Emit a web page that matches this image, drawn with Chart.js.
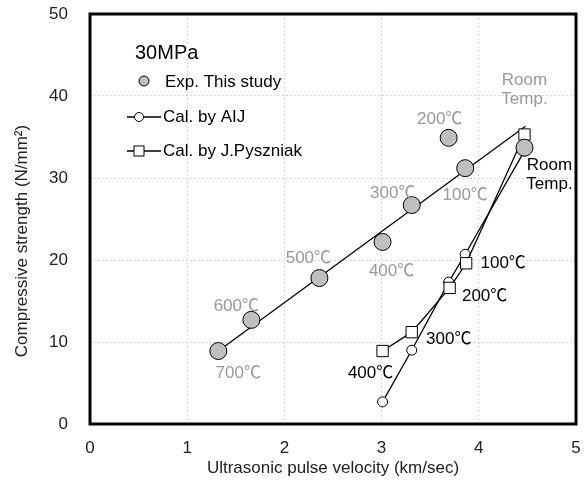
<!DOCTYPE html>
<html>
<head>
<meta charset="utf-8">
<script src="https://cdn.jsdelivr.net/npm/chart.js@4.4.1/dist/chart.umd.min.js"></script>
<style>
    html, body { margin: 0; padding: 0; background: #fff; }
</style>
</head>
<body>
<canvas id="chart" width="587" height="487"></canvas>
<script>
// experiment (gray circles)
const expVelocity = [1.32, 1.66, 2.36, 3.01, 3.31, 3.69, 3.86, 4.47];
const expStrength = [8.9, 12.7, 17.8, 22.2, 26.7, 34.9, 31.2, 33.7];
const expTemps = ["700℃", "600℃", "500℃", "400℃", "300℃", "200℃", "100℃", "Room|Temp."];

// calculated by AIJ (open circles)
const aijVelocity = [3.01, 3.31, 3.69, 3.86, 4.47];
const aijStrength = [2.7, 9.0, 17.3, 20.7, 33.3];

// calculated by J.Pyszniak (open squares)
const pyszVelocity = [3.01, 3.31, 3.70, 3.87, 4.47];
const pyszStrength = [8.9, 11.2, 16.6, 19.6, 35.3];
const calcTemps = ["400℃", "300℃", "200℃", "100℃", "Room|Temp."];

// fitted line through the experiment points
const fitVelocity = [1.32, 4.48];
const fitStrength = [8.9, 36.3];

const xTicks = [0, 1, 2, 3, 4, 5];
const yTicks = [0, 10, 20, 30, 40, 50];

// label offsets in pixels from their point
const expLabelOffsets = [[20, 22], [-15, -14], [-11, -20], [9, 29], [-19, -12], [-9, -19], [0, 27], [0, -67]];
const calcLabelOffsets = [[-12, 22], [37, 7], [35, 8], [37, 0], [25, 31]];

const FONT = '"Liberation Sans", Arial, "Noto Sans CJK JP", sans-serif';
const GRAY_TEXT = "#999999";

const toPoints = (xs, ys) => xs.map((x, i) => ({ x: x, y: ys[i] }));

const drawLabel = (ctx, text, x, y) => {
    const lines = text.split("|");
    lines.forEach((line, i) => {
        ctx.fillText(line, x, y + i * 19);
    });
};

// keep tick-label overhang from pushing the plot area in
const noScalePadding = (scale) => {
    scale.paddingTop = 0;
    scale.paddingBottom = 0;
    scale.paddingLeft = 0;
    scale.paddingRight = 0;
};

const overlayPlugin = {
    id: "overlay",
    afterDatasetsDraw(chart) {
        const ctx = chart.ctx;
        const xs = chart.scales.x;
        const ys = chart.scales.y;
        ctx.save();
        ctx.font = "17px " + FONT;
        ctx.textAlign = "center";
        ctx.textBaseline = "middle";

        ctx.fillStyle = GRAY_TEXT;
        expTemps.forEach((t, i) => {
            const px = xs.getPixelForValue(expVelocity[i]) + expLabelOffsets[i][0];
            const py = ys.getPixelForValue(expStrength[i]) + expLabelOffsets[i][1];
            drawLabel(ctx, t, px, py);
        });

        ctx.fillStyle = "#000";
        calcTemps.forEach((t, i) => {
            const px = xs.getPixelForValue(pyszVelocity[i]) + calcLabelOffsets[i][0];
            const py = ys.getPixelForValue(pyszStrength[i]) + calcLabelOffsets[i][1];
            drawLabel(ctx, t, px, py);
        });
        ctx.restore();
    },
    afterDraw(chart) {
        const ctx = chart.ctx;
        const area = chart.chartArea;
        ctx.save();

        // frame
        ctx.strokeStyle = "#000";
        ctx.lineWidth = 3;
        ctx.strokeRect(area.left, area.top, area.right - area.left, area.bottom - area.top);

        // axis titles
        ctx.fillStyle = "#222";
        ctx.font = "17px " + FONT;
        ctx.textAlign = "center";
        ctx.textBaseline = "middle";
        ctx.fillText("Ultrasonic pulse velocity (km/sec)", (area.left + area.right) / 2, 468);
        ctx.save();
        ctx.translate(22, 241);
        ctx.rotate(-Math.PI / 2);
        ctx.fillText("Compressive strength (N/mm²)", 0, 0);
        ctx.restore();

        // legend
        ctx.textAlign = "left";
        ctx.fillStyle = "#000";
        ctx.font = "20px " + FONT;
        ctx.fillText("30MPa", 135, 53);
        ctx.font = "17px " + FONT;
        ctx.fillText("Exp. This study", 165, 82);
        ctx.fillText("Cal. by AIJ", 163, 117);
        ctx.fillText("Cal. by J.Pyszniak", 163, 151);

        ctx.lineWidth = 1;
        ctx.strokeStyle = "#000";
        ctx.beginPath();
        ctx.arc(144, 81, 5, 0, Math.PI * 2);
        ctx.fillStyle = "#bfbfbf";
        ctx.fill();
        ctx.stroke();

        ctx.lineWidth = 1.3;
        ctx.beginPath();
        ctx.moveTo(127, 117);
        ctx.lineTo(161, 117);
        ctx.moveTo(127, 151);
        ctx.lineTo(161, 151);
        ctx.stroke();

        ctx.lineWidth = 1;
        ctx.fillStyle = "#fff";
        ctx.beginPath();
        ctx.arc(139, 117, 4.5, 0, Math.PI * 2);
        ctx.fill();
        ctx.stroke();
        ctx.fillRect(134, 146, 10, 10);
        ctx.strokeRect(134, 146, 10, 10);

        ctx.restore();
    },
};

new Chart(document.getElementById("chart").getContext("2d"), {
    type: "scatter",
    data: {
        datasets: [
            {
                label: "Exp. This study",
                data: toPoints(expVelocity, expStrength),
                showLine: false,
                pointRadius: 8.5,
                pointBackgroundColor: "#bfbfbf",
                pointBorderColor: "#000",
                pointBorderWidth: 1,
            },
            {
                label: "Cal. by J.Pyszniak",
                data: toPoints(pyszVelocity, pyszStrength),
                showLine: true,
                borderColor: "#000",
                borderWidth: 1.3,
                pointStyle: "rect",
                pointRadius: 8,
                pointBackgroundColor: "#fff",
                pointBorderColor: "#000",
                pointBorderWidth: 1,
            },
            {
                label: "Cal. by AIJ",
                data: toPoints(aijVelocity, aijStrength),
                showLine: true,
                borderColor: "#000",
                borderWidth: 1.3,
                pointRadius: 5,
                pointBackgroundColor: "#fff",
                pointBorderColor: "#000",
                pointBorderWidth: 1,
            },
            {
                label: "fit",
                data: toPoints(fitVelocity, fitStrength),
                showLine: true,
                borderColor: "#000",
                borderWidth: 1.3,
                pointRadius: 0,
            },
        ],
    },
    options: {
        responsive: false,
        animation: false,
        devicePixelRatio: 1,
        layout: { padding: { top: 14, right: 11, left: 0, bottom: 0 } },
        plugins: {
            legend: { display: false },
            tooltip: { enabled: false },
        },
        scales: {
            x: {
                type: "linear",
                min: xTicks[0],
                max: xTicks[xTicks.length - 1],
                afterBuildTicks: (scale) => {
                    scale.ticks = xTicks.map((v) => ({ value: v }));
                },
                afterFit: (scale) => {
                    scale.height = 63;
                    noScalePadding(scale);
                },
                ticks: {
                    padding: 14,
                    color: "#222",
                    font: { family: FONT, size: 17 },
                },
                grid: { color: "#d9d9d9", drawTicks: false, lineWidth: 1 },
                border: { display: false, dash: [2, 2] },
            },
            y: {
                type: "linear",
                min: yTicks[0],
                max: yTicks[yTicks.length - 1],
                afterBuildTicks: (scale) => {
                    scale.ticks = yTicks.map((v) => ({ value: v }));
                },
                afterFit: (scale) => {
                    scale.width = 90;
                    noScalePadding(scale);
                },
                ticks: {
                    padding: 22,
                    color: "#222",
                    font: { family: FONT, size: 17 },
                },
                grid: { color: "#d9d9d9", drawTicks: false, lineWidth: 1 },
                border: { display: false, dash: [2, 2] },
            },
        },
    },
    plugins: [overlayPlugin],
});
</script>
</body>
</html>
